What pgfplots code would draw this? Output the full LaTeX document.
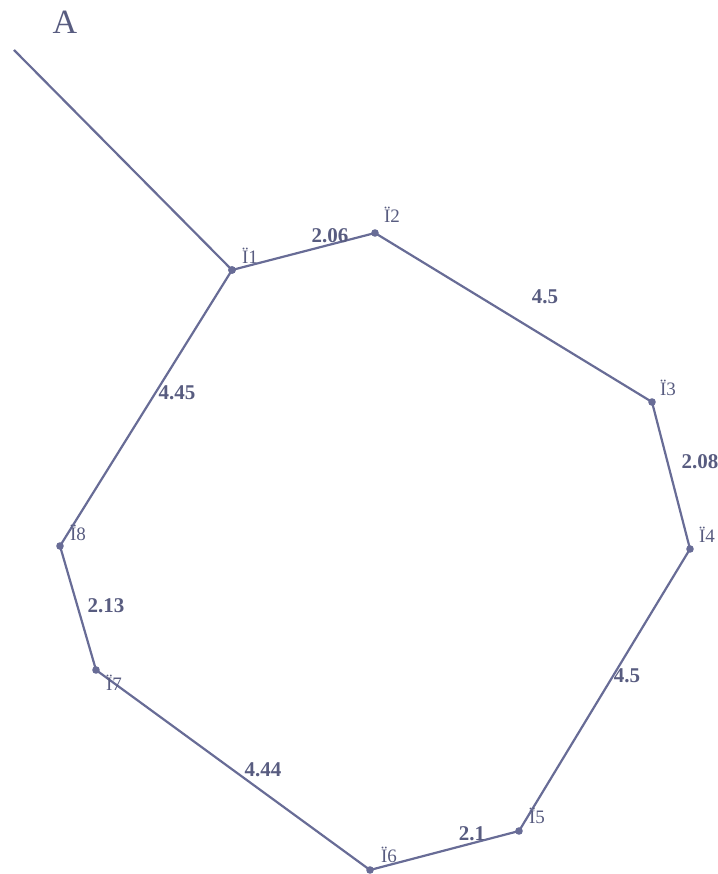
\documentclass[border=0pt]{standalone}
\usepackage{fontspec}
\setmainfont{Liberation Serif}
\usepackage{pgfplots}
\pgfplotsset{compat=1.18}
\definecolor{ln}{RGB}{104,108,150}
\definecolor{tx}{RGB}{88,92,128}
\begin{document}
\begin{tikzpicture}
\begin{axis}[
  width=359pt, height=437pt, scale only axis,
  xmin=0, xmax=718, ymin=0, ymax=874,
  axis lines=none, clip=false,
]
% ring (y = 874 - pixel y)
\addplot[ln, line width=1.1pt, mark=*, mark size=1.3pt, mark options={fill=ln}] coordinates {
(232,604) (375,641) (652,472) (690,325) (519,43) (370,4) (96,204) (60,328) (232,604)};
% tail
\addplot[ln, line width=1.1pt] coordinates {(14,824) (232,604)};
\coordinate (sw) at (axis cs:0,0);
\coordinate (ne) at (axis cs:718,874);
\node[tx, font=\fontsize{17}{19}\selectfont] at (axis cs:65,852) {A};
\begin{scope}[every node/.style={tx, font=\fontsize{9.5}{11}\selectfont}]
\node at (axis cs:250,618) {Ï1};
\node at (axis cs:392,659) {Ï2};
\node at (axis cs:668,486) {Ï3};
\node at (axis cs:707,339) {Ï4};
\node at (axis cs:537,58) {Ï5};
\node at (axis cs:389,19) {Ï6};
\node at (axis cs:114,191) {Ï7};
\node at (axis cs:78,341) {Ï8};
\end{scope}
\begin{scope}[every node/.style={tx, font=\bfseries\fontsize{10.5}{12}\selectfont}]
\node at (axis cs:330,638) {2.06};
\node at (axis cs:545,577) {4.5};
\node at (axis cs:700,412) {2.08};
\node at (axis cs:627,198) {4.5};
\node at (axis cs:472,40) {2.1};
\node at (axis cs:263,104) {4.44};
\node at (axis cs:106,268) {2.13};
\node at (axis cs:177,481) {4.45};
\end{scope}
\end{axis}
\pgfresetboundingbox
\useasboundingbox (sw) rectangle (ne);
\end{tikzpicture}
\end{document}
